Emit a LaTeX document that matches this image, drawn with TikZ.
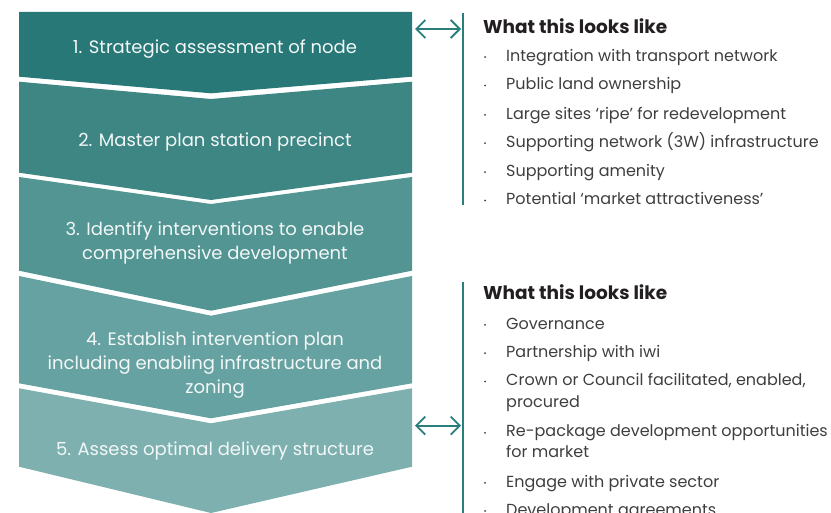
\documentclass[tikz,border=0pt]{standalone}
\usepackage{fontspec}
\setmainfont{Poppins}
\usetikzlibrary{arrows.meta}

\definecolor{stepA}{RGB}{40,120,119}
\definecolor{stepB}{RGB}{61,134,131}
\definecolor{stepC}{RGB}{82,149,147}
\definecolor{stepD}{RGB}{102,162,161}
\definecolor{stepE}{RGB}{125,176,174}
\definecolor{linkteal}{RGB}{42,127,125}
\definecolor{headink}{RGB}{35,31,32}
\definecolor{bodyink}{RGB}{62,62,62}

% multi-line nodes sit on the baseline of their last line
\tikzset{
  steptext/.style={text=white!94!stepA, font=\fontsize{18}{24}\selectfont,
    align=center, anchor=base, inner sep=0pt},
  listhead/.style={text=headink, font=\fontsize{18.5}{22}\bfseries\selectfont,
    anchor=base west, inner sep=0pt},
  listitem/.style={text=bodyink, font=\fontsize{16}{21.7}\selectfont,
    align=left, anchor=base west, inner sep=0pt},
  bulletdot/.style={fill=bodyink},
  link/.style={draw=linkteal, line width=1.8pt,
    {Straight Barb[length=9pt,width=18pt]}-{Straight Barb[length=9pt,width=18pt]}},
  rule/.style={draw=linkteal, line width=2pt},
}

\begin{document}
\begin{tikzpicture}[x=1pt,y=-1pt]
\useasboundingbox (0,0) rectangle (831,513);
\clip (0,0) rectangle (831,513);

% chevron steps
\fill[stepA] (19,12) -- (412,12) -- (412,76.7) -- (211,93.3) -- (19,76.7) -- cycle;
\fill[stepB] (19,81.7) -- (211,99) -- (412,81.7) -- (412,172.7) -- (211,200) -- (19,172.7) -- cycle;
\fill[stepC] (19,177) -- (211,204) -- (412,177) -- (412,270.7) -- (211,310.7) -- (19,270.7) -- cycle;
\fill[stepD] (19,276) -- (211,315.7) -- (412,276) -- (412,383.3) -- (211,418.3) -- (19,383.3) -- cycle;
\fill[stepE] (19,388.3) -- (211,423.3) -- (412,388.3) -- (412,466.7) -- (211,513) -- (19,466.7) -- cycle;

% step labels
\node[steptext] (s1) at (215,53.3) {1. Strategic assessment of node};
\node[steptext] (s2) at (215,146.7) {2. Master plan station precinct};
\node[steptext] (s3) at (215,260) {3. Identify interventions to enable\\comprehensive development};
\node[steptext] (s4) at (215,393.3) {4. Establish intervention plan\\including enabling infrastructure and\\zoning};
\node[steptext] (s5) at (215,455) {5. Assess optimal delivery structure};

% connectors to the lists
\coordinate (a1l) at (415,29);
\coordinate (a1r) at (461,29);
\coordinate (a2l) at (415,425.7);
\coordinate (a2r) at (461,425.7);
\draw[link] (a1l) -- (a1r);
\draw[link] (a2l) -- (a2r);

\coordinate (r1t) at (463,13);
\coordinate (r1b) at (463,205);
\coordinate (r2t) at (463,282);
\coordinate (r2b) at (463,520);
\draw[rule] (r1t) -- (r1b);
\draw[rule] (r2t) -- (r2b);

% first list
\node[listhead] (h1) at (483,33.3) {What this looks like};
\foreach \y/\t [count=\i] in {
  61.5/{Integration with transport network},
  90/{Public land ownership},
  119.3/{Large sites ‘ripe’ for redevelopment},
  147.7/{Supporting network (3W) infrastructure},
  176.7/{Supporting amenity},
  205/{Potential ‘market attractiveness’}} {
  \fill[bulletdot] (485,\y-4.5) circle (1pt);
  \node[listitem] (pa\i) at (506,\y) {\t};
}

% second list
\node[listhead] (h2) at (483,300) {What this looks like};
\foreach \y/\b/\t [count=\i] in {
  329.3/329.3/{Governance},
  357.7/357.7/{Partnership with iwi},
  386/407.7/{Crown or Council facilitated, enabled,\\procured},
  437.3/457.7/{Re-package development opportunities\\for market},
  487.3/487.3/{Engage with private sector},
  515.5/515.5/{Development agreements}} {
  \fill[bulletdot] (485,\y-4.5) circle (1pt);
  \node[listitem] (pb\i) at (506,\b) {\t};
}
\end{tikzpicture}
\end{document}
